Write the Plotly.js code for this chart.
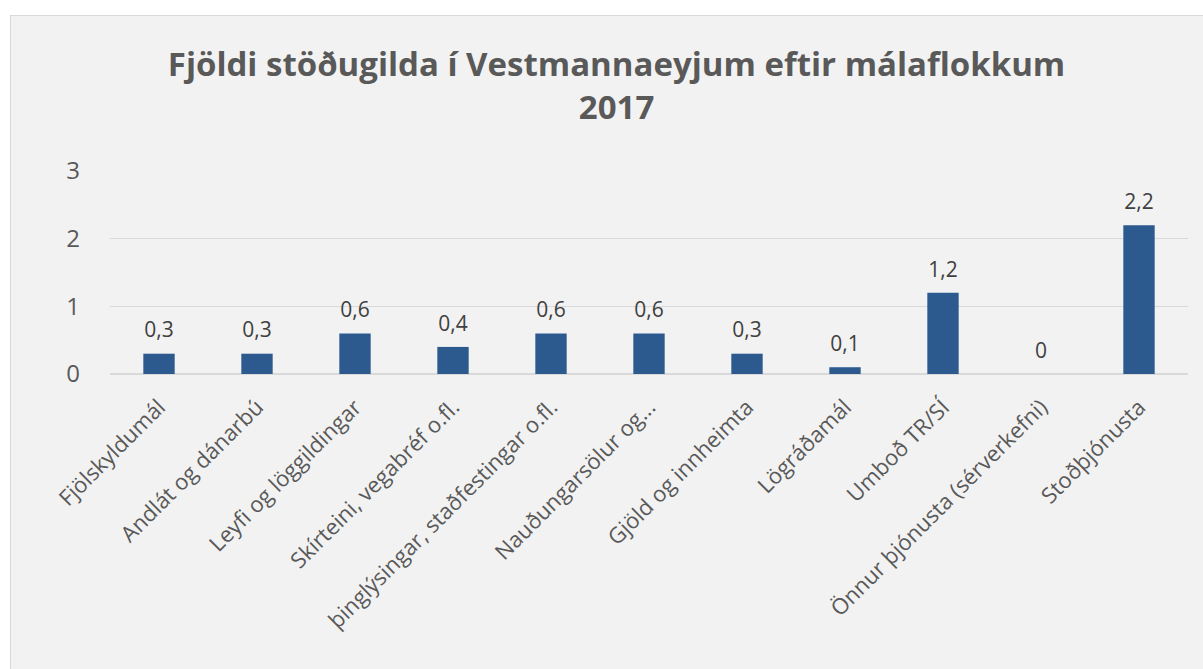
<!DOCTYPE html>
<html>
<head>
<meta charset="utf-8">
<script src="https://cdn.plot.ly/plotly-3.0.1.min.js"></script>
<style>
html,body{margin:0;padding:0;background:#ffffff;width:1203px;height:669px;overflow:hidden;}
#frame{position:absolute;left:10px;top:15px;width:1200px;height:670px;border:1px solid #d9d9d9;background:#f2f2f2;}
#chart{width:1192px;height:660px;}
</style>
</head>
<body>
<div id="frame"><div id="chart"></div></div>
<script>
const categories = [
  "Fjölskyldumál",
  "Andlát og dánarbú",
  "Leyfi og löggildingar",
  "Skírteini, vegabréf o.fl.",
  "þinglýsingar, staðfestingar o.fl.",
  "Nauðungarsölur og...",
  "Gjöld og innheimta",
  "Lögráðamál",
  "Umboð TR/SÍ",
  "Önnur þjónusta (sérverkefni)",
  "Stoðþjónusta"
];
const values = [0.3, 0.3, 0.6, 0.4, 0.6, 0.6, 0.3, 0.1, 1.2, 0, 2.2];
const yTicks = [0, 1, 2, 3];
const titleText = "Fjöldi stöðugilda í Vestmannaeyjum eftir málaflokkum<br>2017";

const FONT = "'Open Sans', 'Noto Sans', sans-serif";

const bars = {
  type: 'bar',
  x: categories,
  y: values,
  marker: {color: '#2c5a8e', line: {width: 0}},
  width: 0.32,
  hoverinfo: 'x+y'
};

const labels = {
  type: 'scatter',
  mode: 'markers+text',
  x: categories,
  y: values,
  marker: {size: 16, opacity: 0, color: '#2c5a8e'},
  texttemplate: '%{y:~g}',
  textposition: 'top center',
  cliponaxis: false,
  textfont: {family: FONT, size: 21, color: '#404040'},
  hoverinfo: 'skip'
};

const layout = {
  width: 1192,
  height: 660,
  paper_bgcolor: '#f2f2f2',
  plot_bgcolor: '#f2f2f2',
  separators: ', ',
  margin: {l: 99, r: 15, t: 155, b: 302},
  showlegend: false,
  title: {
    text: titleText,
    font: {family: FONT, size: 33, color: '#595959', weight: 'bold'},
    x: 0.508,
    xref: 'container',
    xanchor: 'center',
    y: 1 - 60/660,
    yref: 'container',
    yanchor: 'top'
  },
  xaxis: {
    type: 'category',
    range: [-0.5, categories.length - 0.5],
    tickangle: -45,
    tickfont: {family: FONT, size: 22, color: '#595959'},
    showgrid: false,
    showline: false,
    zeroline: false,
    ticks: '',
    ticklabelstandoff: 15,
    fixedrange: true
  },
  yaxis: {
    range: [0, 3],
    tickvals: yTicks,
    ticktext: yTicks.map(String),
    tickfont: {family: FONT, size: 24, color: '#595959'},
    showgrid: true,
    gridcolor: '#d9d9d9',
    gridwidth: 1.5,
    zeroline: true,
    zerolinecolor: '#d9d9d9',
    zerolinewidth: 1.5,
    showline: false,
    ticks: '',
    ticklabelstandoff: 29,
    fixedrange: true
  }
};

Plotly.newPlot('chart', [bars, labels], layout, {displayModeBar: false, staticPlot: true});
</script>
</body>
</html>
